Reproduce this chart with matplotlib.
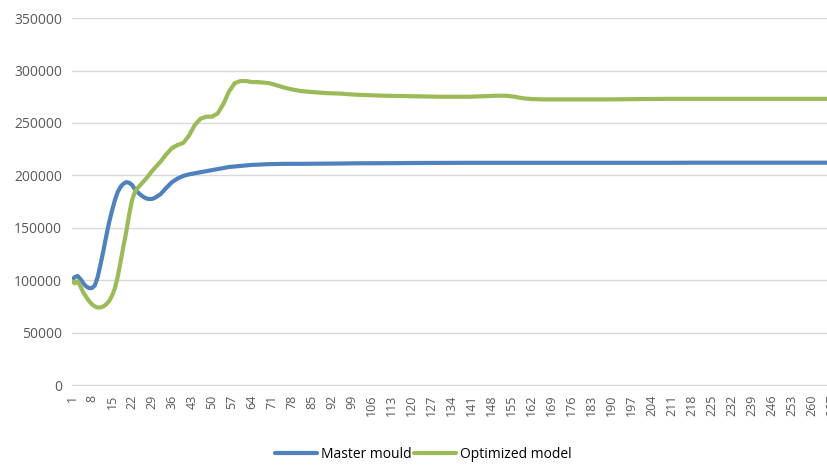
import numpy as np
import matplotlib.pyplot as plt
from matplotlib.ticker import FixedLocator

# sample index (x) and the two series
steps = [1, 2, 3, 4, 5, 6, 7, 8, 9, 10, 11, 12, 13, 14, 15, 16, 17, 18, 19, 20,
         21, 22, 23, 24, 25, 26, 27, 28, 29, 30, 32, 34, 36, 38, 40, 42, 44, 46, 48, 50,
         52, 54, 56, 58, 60, 62, 64, 66, 68, 70, 72, 75, 78, 81, 85, 90, 95, 100, 110, 120,
         130, 140, 145, 150, 153, 156, 159, 162, 166, 170, 180, 190, 200, 210, 220, 230, 240, 250, 260, 270]

master = [100000, 103000, 104000, 101000, 97000, 94000, 92500, 92500, 95000, 103000,
          115000, 128000, 142000, 155000, 166000, 176000, 184000, 189000, 192000, 193500,
          193000, 191000, 187000, 184000, 181500, 179500, 178000, 177500, 177500, 178500,
          182000, 188000, 193500, 197000, 199500, 201000, 202000, 203000, 204000, 205000,
          206000, 207000, 208000, 208500, 209000, 209500, 210000, 210200, 210500, 210700,
          210800, 211000, 211000, 211000, 211100, 211200, 211300, 211500, 211600, 211800,
          211900, 212000, 212000, 212000, 212000, 212000, 212000, 212000, 212000, 212000,
          212000, 212000, 212000, 212000, 212100, 212100, 212100, 212100, 212100, 212100]

optimized = [99000, 97000, 99000, 94000, 88000, 84000, 80000, 77000, 75000, 74000,
             74000, 75000, 77000, 80000, 85000, 92000, 103000, 117000, 132000, 146000,
             162000, 176000, 184000, 188000, 191000, 194000, 197000, 200500, 204000, 207000,
             213000, 220000, 226000, 229000, 231000, 238000, 248000, 254000, 256000, 256000,
             259000, 268000, 280000, 288000, 290000, 290000, 289000, 289000, 288500, 288000,
             286500, 284000, 282000, 280500, 279500, 278500, 278000, 277000, 276000, 275500,
             275000, 275000, 275500, 276000, 276000, 275000, 273500, 272800, 272500, 272500,
             272500, 272500, 272800, 273000, 273000, 273000, 273000, 273000, 273000, 273000]

x_ticks = list(range(1, 268, 7))
y_ticks = list(range(0, 350001, 50000))

plt.rcParams['font.family'] = ['Open Sans', 'DejaVu Sans']

fig = plt.figure(figsize=(8.27, 4.65), dpi=100)
# axis runs off the right edge of the picture, as in the original screenshot
ax = fig.add_axes([0.087, 0.172, 0.929, 0.789])

ax.plot(steps, master, color='#4F81BD', linewidth=3, solid_capstyle='round', label='Master mould')
ax.plot(steps, optimized, color='#9BBB59', linewidth=3, solid_capstyle='round', label='Optimized model')

ax.set_xlim(1, 270)
ax.set_ylim(0, 350000)
ax.xaxis.set_major_locator(FixedLocator(x_ticks))
ax.set_xticklabels([str(t) for t in x_ticks], rotation=90)
ax.set_yticks(y_ticks)

ax.grid(True, axis='y', color='#D9D9D9', linewidth=1)
ax.set_axisbelow(True)
for side in ['top', 'right', 'left']:
    ax.spines[side].set_visible(False)
ax.spines['bottom'].set_color('#D9D9D9')
ax.tick_params(axis='both', length=0, colors='#595959')
ax.tick_params(axis='y', labelsize=10, pad=7)
ax.tick_params(axis='x', labelsize=9, pad=7)

fig.legend(loc='center', bbox_to_anchor=(0.512, 0.022), ncol=2, frameon=False,
           handlelength=3, handletextpad=0.3, columnspacing=0.2,
           prop={'size': 10})

fig.savefig('out.png', dpi=100)
